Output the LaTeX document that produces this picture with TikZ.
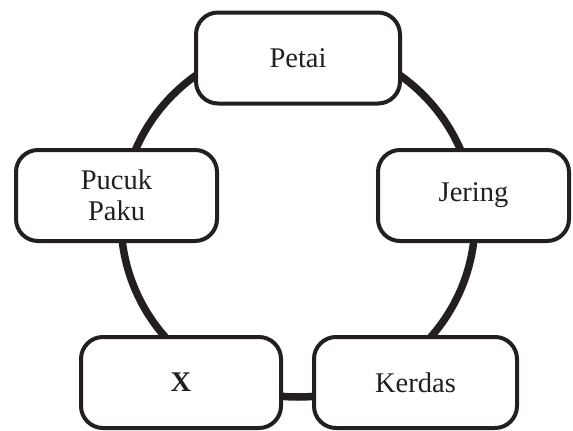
\documentclass[tikz,border=0pt]{standalone}
\usepackage{fontspec}
\setmainfont{Liberation Serif}
\definecolor{ink}{HTML}{231F20}
\begin{document}
\begin{tikzpicture}[x=1pt,y=-1pt,
  box/.style={draw=ink, line width=4pt, rounded corners=22pt, fill=white,
    minimum width=#1, minimum height=91pt, inner sep=0pt, align=center,
    text=ink, font=\fontsize{28.5}{31}\selectfont},
  box/.default=202pt,
  ring/.style={draw=ink, line width=7.5pt}]
\useasboundingbox (0,0) rectangle (573,431);
\draw[ring] (298,220) circle[radius=177pt];
\node[box=204pt] (petai) at (298,58) {Petai};
\node[box=201pt] (pucuk) at (116.5,195.5) {Pucuk\\Paku};
\node[box=191pt] (jering) at (473.5,195.5) {Jering};
\node[box=200pt] (x) at (181,382.5) {\textbf{X}};
\node[box=203pt] (kerdas) at (415.5,382.5) {Kerdas};
\end{tikzpicture}
\end{document}
